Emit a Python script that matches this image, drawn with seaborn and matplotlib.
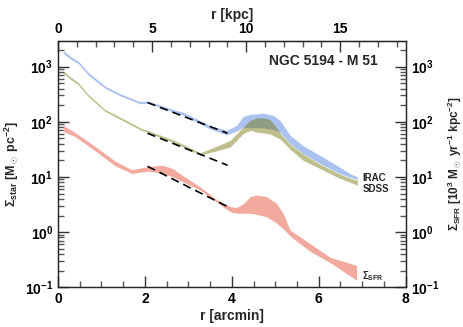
import numpy as np
import pandas as pd
import seaborn as sns
import matplotlib.pyplot as plt
from matplotlib.ticker import FuncFormatter, LogLocator, MultipleLocator

# radial profiles of NGC 5194 (r in arcmin)
r_irac = [0.12, 0.30, 0.47, 0.70, 1.08, 1.46, 1.89, 2.08, 2.62, 2.88, 3.50, 3.88, 4.11,
          4.26, 4.42, 4.72, 4.95, 5.11, 5.34, 5.64, 6.03, 6.41, 6.72, 6.89]
irac_hi = [1950, 1500, 1250, 780, 445, 315, 232, 238, 170, 148, 86, 70, 86,
           125, 136, 143, 131, 106, 57, 37, 24.6, 16.3, 11.5, 10.0]
irac_lo = [1750, 1350, 1130, 700, 405, 288, 212, 218, 153, 132, 74, 58, 68,
           80, 78, 78, 72, 65, 40, 26.5, 17.5, 12.3, 9.8, 9.1]

r_sdss = [0.12, 0.30, 0.47, 0.70, 1.08, 1.46, 1.93, 2.08, 2.62, 2.88, 3.27, 3.65, 3.96,
          4.26, 4.42, 4.57, 4.72, 4.88, 5.11, 5.34, 5.64, 6.03, 6.41, 6.72, 6.89]
sdss_hi = [830, 640, 510, 310, 168, 118, 75, 69, 48, 39, 27.5, 36, 46,
           80, 106, 118, 118, 110, 63, 39, 26, 17, 12, 9.5, 8.8]
sdss_lo = [760, 580, 465, 285, 155, 108, 69, 64, 43, 35, 25, 29.8, 35,
           61, 70, 65, 63, 60, 49, 32, 20, 14.2, 10, 8.0, 7.1]

r_sfr = [0.12, 0.39, 0.85, 1.31, 1.70, 2.08, 2.42, 2.65, 2.88, 3.27, 3.65, 3.96, 4.11,
         4.27, 4.42, 4.57, 4.80, 5.03, 5.18, 5.34, 5.80, 6.26, 6.87]
sfr_hi = [86, 64, 36, 19.5, 13.5, 15.5, 16.3, 14, 10.5, 6.6, 3.9, 2.9, 2.8,
          3.3, 4.4, 4.7, 4.4, 3.3, 2.2, 1.09, 0.62, 0.35, 0.25]
sfr_lo = [67, 54, 30, 16, 11.6, 12.8, 11.5, 10, 8.1, 5.8, 3.5, 2.35, 2.2,
          2.2, 2.2, 2.1, 1.9, 1.45, 1.15, 0.85, 0.45, 0.28, 0.135]

# exponential fits
fit_r = [2.06, 3.90]
fit_irac = [223, 62]
fit_sdss = [62, 16.3]
fit_sfr = [15.6, 2.9]

kpc_per_arcmin = 2.31

sns.set_style('ticks')
plt.rcParams['font.family'] = ['Liberation Sans', 'DejaVu Sans']
plt.rcParams['font.weight'] = 'bold'
plt.rcParams['mathtext.fontset'] = 'custom'
plt.rcParams['mathtext.rm'] = 'Liberation Sans'
plt.rcParams['mathtext.bf'] = 'Liberation Sans:bold'
plt.rcParams['mathtext.it'] = 'Liberation Sans:italic'
plt.rcParams['mathtext.default'] = 'bf'

fig = plt.figure(figsize=(4.63, 3.27), dpi=100)
ax = fig.add_axes([0.1253, 0.1214, 0.7509, 0.7541])

ax.fill_between(r_irac, irac_lo, irac_hi, color='#abc1ee', lw=0)
ax.fill_between(r_sdss, sdss_lo, sdss_hi, color='#717302', alpha=0.45, lw=0)
ax.fill_between(r_sfr, sfr_lo, sfr_hi, color='#f2aa9f', lw=0)

fits = pd.DataFrame({'r': fit_r * 3,
                     'y': fit_irac + fit_sdss + fit_sfr,
                     'fit': ['irac'] * 2 + ['sdss'] * 2 + ['sfr'] * 2})
sns.lineplot(data=fits, x='r', y='y', units='fit', estimator=None, color='black',
             lw=1.2, ax=ax, legend=False)
for line in ax.get_lines():
    line.set_dashes((5, 3))

ax.set_yscale('log')
ax.set_xlim(0, 8)
ax.set_ylim(0.1, 2950)

fmt = FuncFormatter(lambda v, p: r'$\mathbf{10^{%d}}$' % round(np.log10(v)))


def style_ticks(a):
    a.tick_params(which='major', direction='in', length=8, width=1, labelsize=10,
                  colors='#333333', labelcolor='black')
    a.tick_params(which='minor', direction='in', length=4.5, width=1, colors='#555555')


ax.yaxis.set_major_locator(LogLocator(base=10, numticks=10))
ax.yaxis.set_minor_locator(LogLocator(base=10, subs=np.arange(2, 10), numticks=10))
ax.yaxis.set_major_formatter(fmt)
ax.xaxis.set_major_locator(MultipleLocator(2))
ax.xaxis.set_minor_locator(MultipleLocator(0.5))
style_ticks(ax)
for s in ax.spines.values():
    s.set_color('#333333')
    s.set_linewidth(1)

ax.set_xlabel('r [arcmin]', fontsize=10, fontweight='bold', labelpad=2)
ax.set_ylabel(r'$\Sigma_{\mathbf{star}}$ [M$_\odot$ pc$^{-2}$]', fontsize=9,
              fontweight='bold', labelpad=3)

# right axis
ax2 = ax.twinx()
ax2.set_yscale('log')
ax2.set_ylim(ax.get_ylim())
ax2.yaxis.set_major_locator(LogLocator(base=10, numticks=10))
ax2.yaxis.set_minor_locator(LogLocator(base=10, subs=np.arange(2, 10), numticks=10))
ax2.yaxis.set_major_formatter(fmt)
style_ticks(ax2)
ax2.set_ylabel(r'$\Sigma_{\mathbf{SFR}}$ [10$^3$ M$_\odot$ yr$^{-1}$ kpc$^{-2}$]', fontsize=8.5,
               fontweight='bold', labelpad=5)

# top axis in kpc
top = ax.secondary_xaxis('top', functions=(lambda x: x * kpc_per_arcmin,
                                           lambda x: x / kpc_per_arcmin))
top.xaxis.set_major_locator(MultipleLocator(5))
top.xaxis.set_minor_locator(MultipleLocator(1))
style_ticks(top)
top.set_xlabel('r [kpc]', fontsize=10, fontweight='bold', labelpad=2)

ax.text(0.92, 0.918, 'NGC 5194 - M 51', transform=ax.transAxes, ha='right', va='center',
        fontsize=10, fontweight='bold')
ax.text(7.0, 9.6, 'IRAC', fontsize=7, fontweight='bold', ha='left', va='center')
ax.text(7.0, 6.0, 'SDSS', fontsize=7, fontweight='bold', ha='left', va='center')
ax.text(7.0, 0.16, r'$\Sigma_{\mathbf{SFR}}$', fontsize=7, ha='left', va='center')

fig.savefig('out.png', dpi=100)
